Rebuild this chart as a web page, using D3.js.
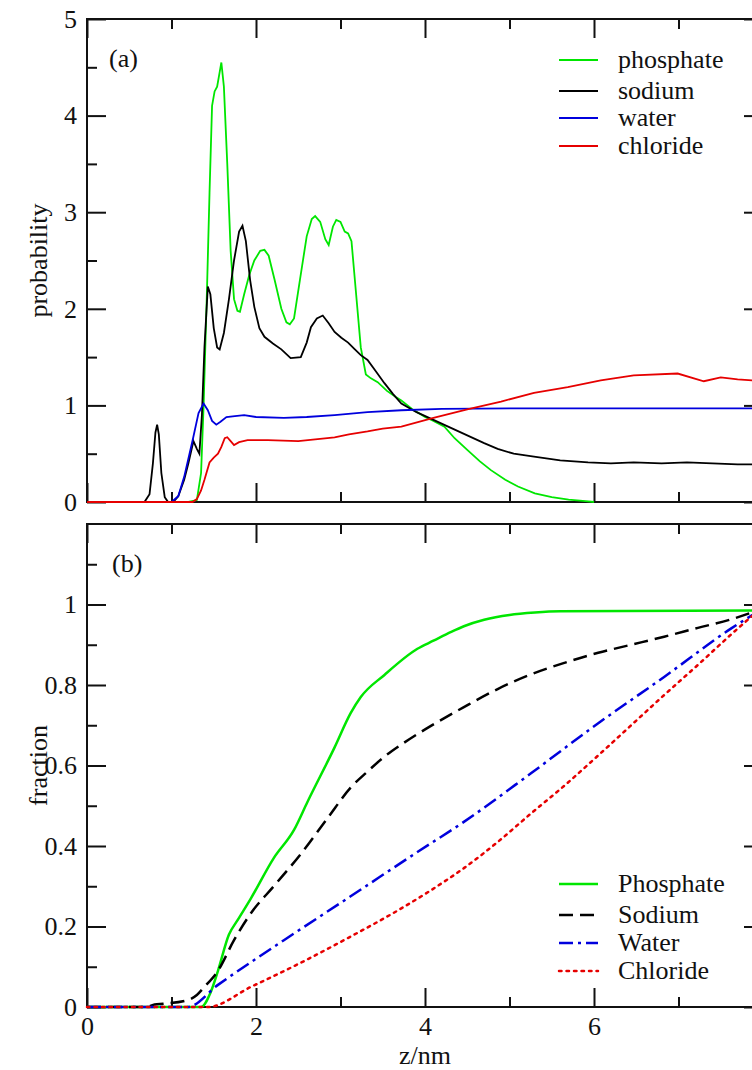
<!DOCTYPE html>
<html>
<head>
<meta charset="utf-8">
<script src="https://cdn.jsdelivr.net/npm/d3@7"></script>
<style>
  body { margin: 0; background: #fff; }
  svg { display: block; }
  text { font-family: "Liberation Serif", "Times New Roman", serif; fill: #111; }
</style>
</head>
<body>
<svg id="chart" width="752" height="1070"></svg>
<script>
// Panel (a): probability density along z (pairs of [z, value])
let phosphateProb = [[0,0],[1.2,0],[1.3,0.02],[1.35,0.3],[1.38,1.0],[1.42,2.2],[1.45,3.2],[1.48,4.1],[1.51,4.25],
  [1.54,4.3],[1.57,4.45],[1.59,4.55],[1.62,4.3],[1.66,3.5],[1.70,2.6],[1.74,2.1],[1.78,1.98],[1.81,1.97],[1.86,2.15],
  [1.92,2.35],[1.98,2.5],[2.05,2.6],[2.10,2.61],[2.15,2.55],[2.22,2.3],[2.30,2.0],[2.36,1.86],[2.40,1.84],[2.45,1.9],
  [2.52,2.3],[2.60,2.75],[2.66,2.93],[2.70,2.96],[2.76,2.9],[2.82,2.72],[2.86,2.66],[2.91,2.85],[2.95,2.92],[3.00,2.9],
  [3.05,2.8],[3.09,2.78],[3.13,2.7],[3.18,2.2],[3.24,1.6],[3.30,1.32],[3.36,1.28],[3.44,1.24],[3.55,1.15],[3.65,1.09],
  [3.72,1.05],[3.85,0.96],[4.0,0.88],[4.1,0.84],[4.23,0.78],[4.35,0.66],[4.5,0.54],[4.65,0.42],[4.78,0.33],[4.95,0.23],
  [5.1,0.16],[5.3,0.09],[5.5,0.05],[5.7,0.025],[5.9,0.01],[6.0,0]];
let sodiumProb = [[0,0],[0.68,0],[0.74,0.08],[0.78,0.4],[0.81,0.72],[0.83,0.8],[0.85,0.7],[0.88,0.3],[0.92,0.05],
  [0.96,0],[1.02,0],[1.08,0.06],[1.15,0.23],[1.2,0.4],[1.26,0.63],[1.3,0.55],[1.33,0.5],[1.36,0.9],[1.39,1.6],
  [1.43,2.23],[1.46,2.15],[1.5,1.8],[1.54,1.6],[1.57,1.58],[1.62,1.75],[1.68,2.1],[1.74,2.5],[1.80,2.8],[1.84,2.86],
  [1.88,2.7],[1.93,2.3],[1.98,2.02],[2.04,1.8],[2.1,1.71],[2.2,1.64],[2.3,1.58],[2.41,1.49],[2.53,1.5],[2.6,1.65],
  [2.65,1.81],[2.72,1.9],[2.79,1.93],[2.86,1.85],[2.93,1.76],[3.01,1.7],[3.09,1.65],[3.17,1.58],[3.24,1.52],
  [3.32,1.47],[3.42,1.35],[3.52,1.23],[3.62,1.12],[3.72,1.02],[3.9,0.93],[4.1,0.85],[4.3,0.77],[4.5,0.69],
  [4.7,0.61],[4.86,0.55],[5.05,0.5],[5.29,0.47],[5.6,0.43],[5.93,0.41],[6.2,0.4],[6.47,0.41],[6.8,0.4],
  [7.1,0.41],[7.4,0.4],[7.7,0.39],[8.0,0.39]];
let waterProb = [[0,0],[1.0,0],[1.08,0.06],[1.15,0.26],[1.25,0.64],[1.32,0.92],[1.38,1.02],[1.43,0.95],[1.48,0.84],
  [1.53,0.8],[1.58,0.83],[1.65,0.88],[1.75,0.89],[1.86,0.9],[2.0,0.88],[2.33,0.87],[2.6,0.88],[2.93,0.9],[3.32,0.93],
  [3.72,0.95],[4.2,0.965],[5,0.97],[6,0.97],[7,0.97],[8.0,0.97]];
let chlorideProb = [[0,0],[1.25,0],[1.3,0.03],[1.35,0.12],[1.39,0.23],[1.45,0.41],[1.5,0.46],[1.55,0.5],[1.59,0.57],
  [1.63,0.66],[1.66,0.67],[1.7,0.63],[1.74,0.59],[1.8,0.62],[1.9,0.64],[2.14,0.64],[2.5,0.63],[2.93,0.67],
  [3.1,0.7],[3.32,0.73],[3.5,0.76],[3.72,0.78],[4.1,0.87],[4.5,0.96],[4.9,1.04],[5.29,1.13],[5.69,1.19],
  [6.08,1.26],[6.47,1.31],[6.99,1.33],[7.3,1.25],[7.5,1.29],[7.7,1.27],[8.0,1.25]];

// Panel (b): cumulative fraction along z
let phosphateFrac = [[0,0],[1.35,0],[1.46,0.035],[1.55,0.09],[1.68,0.18],[1.78,0.215],[1.94,0.27],[2.21,0.37],
  [2.45,0.44],[2.61,0.51],[2.93,0.645],[3.12,0.73],[3.24,0.77],[3.52,0.825],[3.91,0.89],[4.1,0.91],[4.31,0.932],
  [4.46,0.946],[4.7,0.962],[5.0,0.974],[5.3,0.98],[5.6,0.983],[8.0,0.985]];
let sodiumFrac = [[0,0],[0.7,0],[0.8,0.006],[0.9,0.008],[1.19,0.017],[1.3,0.03],[1.39,0.05],[1.55,0.09],[1.74,0.166],
  [1.94,0.233],[2.21,0.3],[2.53,0.38],[2.85,0.47],[3.12,0.545],[3.32,0.585],[3.52,0.622],[3.72,0.652],[3.91,0.678],
  [4.1,0.702],[4.46,0.745],[4.86,0.79],[5.25,0.826],[5.65,0.855],[6.05,0.88],[6.44,0.9],[6.83,0.92],[7.23,0.942],
  [7.62,0.963],[8.0,0.99]];
let waterFrac = [[0,0],[1.19,0],[1.55,0.055],[2.33,0.166],[3.12,0.275],[3.91,0.385],[4.46,0.46],[5.25,0.58],
  [6.05,0.705],[6.83,0.82],[7.62,0.94],[8.0,0.99]];
let chlorideFrac = [[0,0],[1.43,0],[1.94,0.05],[2.53,0.11],[3.12,0.175],[3.72,0.245],[4.07,0.29],[4.46,0.345],
  [4.86,0.41],[5.25,0.48],[5.65,0.55],[6.05,0.625],[6.44,0.7],[6.83,0.775],[7.23,0.85],[7.62,0.925],[8.0,0.995]];

// Tick values
let xMajor = [0, 2, 4, 6, 8];
let xMinor = [1, 3, 5, 7];
let xLabelled = [0, 2, 4, 6];
let probMajor = [0, 1, 2, 3, 4, 5];
let probMinor = [0.5, 1.5, 2.5, 3.5, 4.5];
let fracMajor = [0, 0.2, 0.4, 0.6, 0.8, 1];
let fracMinor = [0.1, 0.3, 0.5, 0.7, 0.9, 1.1];

let topLegend = ['phosphate', 'sodium', 'water', 'chloride'];
let bottomLegend = ['Phosphate', 'Sodium', 'Water', 'Chloride'];
let colors = ['#00e600', '#000000', '#0000dd', '#e60000'];
let dashes = [null, '14,7', '14,5,3,5', '2.5,5'];

let svg = d3.select('#chart');
let left = 87, right = 763;
let fontSize = 26;

let x = d3.scaleLinear().domain([0, 8]).range([left, right]);
let yProb = d3.scaleLinear().domain([0, 5]).range([502, 19]);
let yFrac = d3.scaleLinear().domain([0, 1.2]).range([1007, 524]);

// Frame with inward ticks on all four sides
function drawFrame(y, yMajor, yMinor, showX, fmt) {
  let top = y.range()[1], bottom = y.range()[0];
  let g = svg.append('g');
  let xFmt = d => xLabelled.includes(d) ? d : '';
  let axes = [
    [d3.axisBottom(x), bottom, 'x', xMajor, xMinor, showX, xFmt],
    [d3.axisTop(x), top, 'x', xMajor, xMinor, false, null],
    [d3.axisLeft(y), left, 'y', yMajor, yMinor, true, fmt],
    [d3.axisRight(y), right, 'y', yMajor, yMinor, false, null]
  ];
  for (let [axis, pos, dir, major, minor, labels, f] of axes) {
    let tr = dir === 'x' ? 'translate(0,' + pos + ')' : 'translate(' + pos + ',0)';
    let majorAxis = axis.tickValues(major).tickSizeInner(-19).tickSizeOuter(0).tickPadding(10)
      .tickFormat(labels ? f : '');
    g.append('g').attr('transform', tr).call(majorAxis);
    let minorAxis = axis.tickValues(minor).tickSizeInner(-10).tickFormat('');
    g.append('g').attr('transform', tr).call(minorAxis);
  }
  g.selectAll('.domain').remove();
  g.selectAll('.tick line').attr('stroke', '#111').attr('stroke-width', 2);
  g.selectAll('.tick text').attr('font-size', fontSize).attr('fill', '#111')
    .style('font-family', '"Liberation Serif", "Times New Roman", serif');
  g.append('rect')
    .attr('x', left).attr('y', top)
    .attr('width', right - left).attr('height', bottom - top)
    .attr('fill', 'none').attr('stroke', '#111').attr('stroke-width', 2);
}

drawFrame(yProb, probMajor, probMinor, false, d3.format('d'));
drawFrame(yFrac, fracMajor, fracMinor, true, d => d === 0 || d === 1 ? d : d3.format('.1f')(d));

// Curves
function drawSeries(series, y, width, useDash) {
  let line = d3.line().x(d => x(d[0])).y(d => y(d[1]));
  series.forEach((data, i) => {
    svg.append('path')
      .datum(data)
      .attr('d', line.curve(useDash ? d3.curveMonotoneX : d3.curveLinear))
      .attr('fill', 'none')
      .attr('stroke', colors[i])
      .attr('stroke-width', width)
      .attr('stroke-dasharray', useDash ? dashes[i] : null)
      .attr('stroke-linecap', useDash && i === 3 ? 'round' : 'butt');
  });
}

drawSeries([phosphateProb, sodiumProb, waterProb, chlorideProb], yProb, 1.8, false);
drawSeries([phosphateFrac, sodiumFrac, waterFrac, chlorideFrac], yFrac, 2.5, true);

// Legends
function drawLegend(names, ys, useDash) {
  names.forEach((name, i) => {
    let yy = ys[i];
    svg.append('line')
      .attr('x1', 559).attr('x2', 598).attr('y1', yy).attr('y2', yy)
      .attr('stroke', colors[i])
      .attr('stroke-width', useDash ? 2.5 : 1.8)
      .attr('stroke-dasharray', useDash ? dashes[i] : null)
      .attr('stroke-linecap', useDash && i === 3 ? 'round' : 'butt');
    svg.append('text')
      .attr('x', 618).attr('y', yy + 8)
      .attr('font-size', fontSize)
      .text(name);
  });
}

drawLegend(topLegend, [60, 91, 118, 146], false);
drawLegend(bottomLegend, [884, 915, 943, 971], true);

// Panel labels and axis titles
svg.append('text').attr('x', 109).attr('y', 67).attr('font-size', fontSize).text('(a)');
svg.append('text').attr('x', 112).attr('y', 572).attr('font-size', fontSize).text('(b)');
svg.append('text')
  .attr('transform', 'translate(47,' + yProb(2.5) + ') rotate(-90)')
  .attr('text-anchor', 'middle').attr('font-size', fontSize).text('probability');
svg.append('text')
  .attr('transform', 'translate(47,' + yFrac(0.6) + ') rotate(-90)')
  .attr('text-anchor', 'middle').attr('font-size', fontSize).text('fraction');
svg.append('text')
  .attr('x', x(4)).attr('y', 1064)
  .attr('text-anchor', 'middle').attr('font-size', fontSize).text('z/nm');
</script>
</body>
</html>
